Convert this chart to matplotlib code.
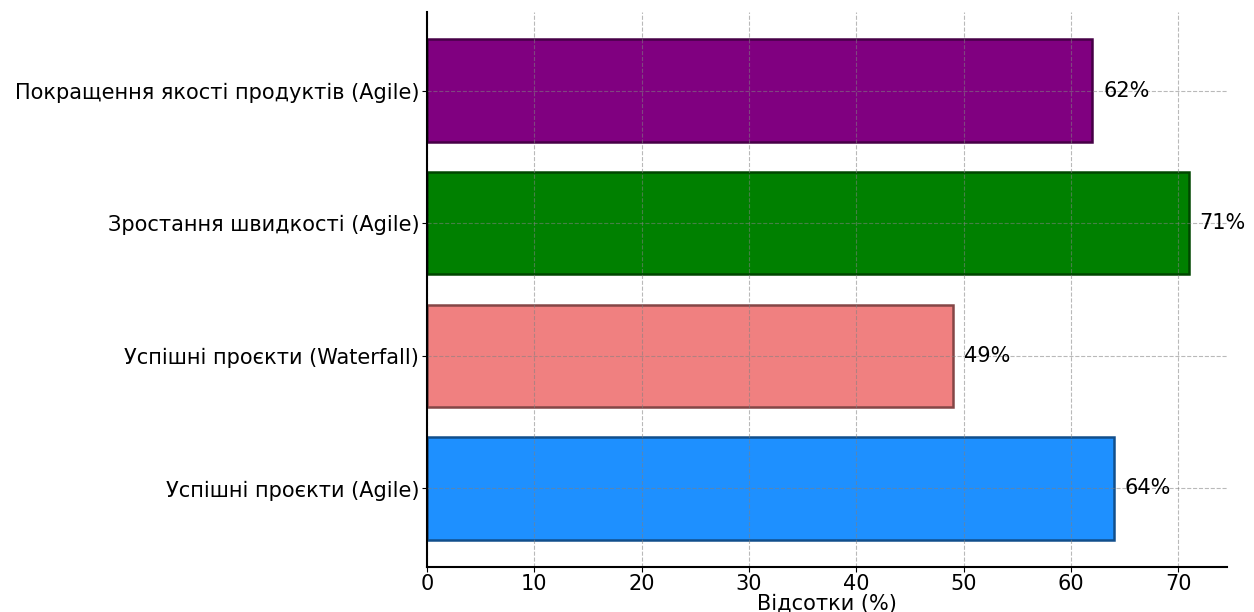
import matplotlib.pyplot as plt
import matplotlib.colors as mcolors

# === Data ===
categories = [
    'Успішні проєкти (Agile)',
    'Успішні проєкти (Waterfall)',
    'Зростання швидкості (Agile)',
    'Покращення якості продуктів (Agile)',
]
values = [64, 49, 71, 62]
colors = ['dodgerblue', 'lightcoral', 'green', 'purple']


def darker(c, f=0.55):
    r, g, b = mcolors.to_rgb(c)
    return (r * f, g * f, b * f)


fig, ax = plt.subplots(figsize=(12.54, 6.12), dpi=100)

bars = ax.barh(categories, values, color=colors, height=0.77,
               edgecolor=[darker(c) for c in colors], linewidth=1.8)

for bar, v in zip(bars, values):
    ax.text(v + 1, bar.get_y() + bar.get_height() / 2, f'{v}%',
            va='center', ha='left', fontsize=15)

ax.set_xlim(0, max(values) * 1.05)
ax.set_ylim(-0.59, 3.59)
ax.set_xlabel('Відсотки (%)', fontsize=15, labelpad=0)
ax.tick_params(labelsize=15, pad=2)
ax.grid(True, linestyle='--', color='gray', alpha=0.55)
ax.spines['top'].set_visible(False)
ax.spines['right'].set_visible(False)
for s in ['left', 'bottom']:
    ax.spines[s].set_linewidth(1.5)

plt.subplots_adjust(left=0.3405, right=0.9785, top=0.98, bottom=0.074)
plt.savefig('out.png', dpi=100)
